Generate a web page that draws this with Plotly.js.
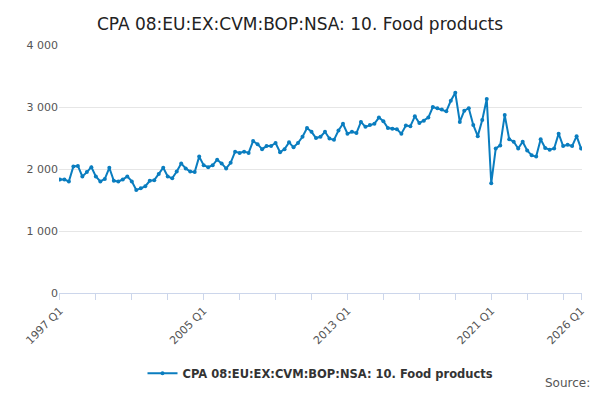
<!DOCTYPE html>
<html><head><meta charset="utf-8">
<script src="https://cdn.plot.ly/plotly-3.0.1.min.js"></script>
<style>body{margin:0}#chart{width:600px;height:400px}</style>
</head><body><div id="chart"></div>
<script>
var startYear = 1997
var values = [
  1830,1830,1800,2040, 2050,1880,1950,2030, 1880,1800,1840,2020, 1810,1800,1830,1880,
  1800,1660,1690,1720, 1810,1820,1920,2020, 1880,1850,1960,2090, 2010,1960,1950,2200,
  2060,2030,2060,2150, 2090,2010,2100,2280, 2260,2280,2260,2450, 2400,2320,2370,2370,
  2420,2270,2320,2430, 2350,2420,2520,2660, 2600,2500,2520,2600, 2490,2470,2620,2730,
  2570,2600,2580,2760, 2680,2710,2730,2830, 2770,2660,2650,2640, 2570,2700,2690,2850,
  2740,2780,2830,3000, 2980,2960,2930,3100, 3230,2760,2940,2980, 2710,2530,2790,3130,
  1770,2330,2380,2870, 2480,2440,2330,2440, 2300,2220,2200,2480, 2340,2310,2330,2570,
  2370,2390,2370,2530, 2330
]
var labeled = ['1997 Q1','2005 Q1','2013 Q1','2021 Q1','2026 Q1']

var quarters = values.map(function(v, i){
  return (startYear + Math.floor(i/4)) + ' Q' + (i%4+1)
})
var tickvals = [], ticktext = []
for (var i = 0; i < quarters.length; i += 8) tickvals.push(quarters[i])
tickvals.push(quarters[quarters.length-1])
tickvals.forEach(function(q){ ticktext.push(labeled.indexOf(q) >= 0 ? q : '') })

var name = 'CPA 08:EU:EX:CVM:BOP:NSA: 10. Food products'
var data = [{
  x: quarters, y: values, type: 'scatter', mode: 'lines+markers', name: name,
  line: {color: '#0a7dbf', width: 2}, marker: {color: '#0a7dbf', size: 4}
}]
var layout = {
  width: 600, height: 400,
  font: {family: 'DejaVu Sans', color: '#333'},
  title: {text: name, font: {size: 17, color: '#222'}, x: 0.5, y: 0.955},
  margin: {l: 59, r: 18, t: 45, b: 100},
  showlegend: true,
  legend: {orientation: 'h', x: 0.5, xanchor: 'center', y: -0.265, font: {size: 11.5, color: '#333', weight: 'bold'}},
  xaxis: {type: 'category', tickmode: 'array', tickvals: tickvals, ticktext: ticktext,
    tickangle: -45, ticks: 'outside', ticklen: 6, tickcolor: '#ccd6eb', automargin: false,
    showline: true, linecolor: '#ccd6eb', showgrid: false, tickfont: {size: 11, color: '#555'},
    range: [-0.2, quarters.length - 0.8]},
  yaxis: {range: [0, 4000], tickvals: [0,1000,2000,3000,4000], automargin: false,
    ticktext: ['0','1 000','2 000','3 000','4 000'], gridcolor: '#e6e6e6',
    zeroline: false, tickfont: {size: 11, color: '#555'}},
  annotations: [{text: 'Source:', xref: 'paper', yref: 'paper', x: 1.02, y: -0.4,
    xanchor: 'right', showarrow: false, font: {size: 12, color: '#555'}}]
}
Plotly.newPlot('chart', data, layout, {staticPlot: true})
</script></body></html>
